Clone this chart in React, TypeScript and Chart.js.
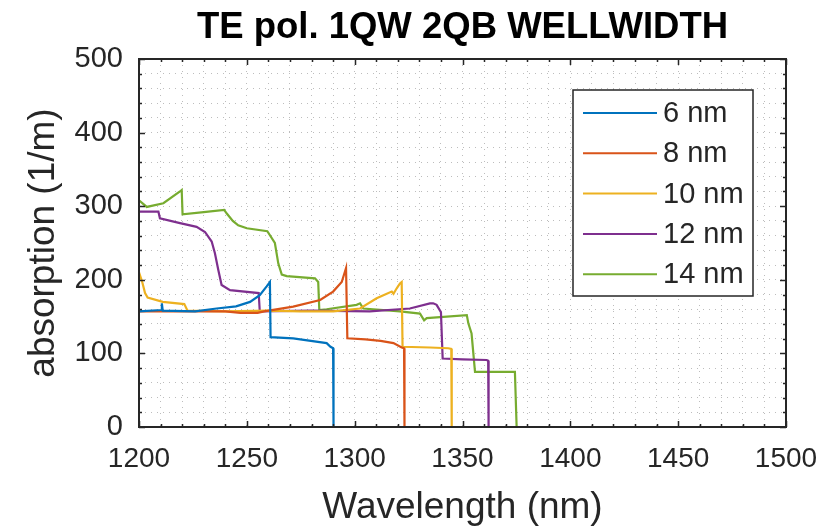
import React, { useEffect, useRef } from "react";
import { Chart, registerables } from "chart.js";

Chart.register(...registerables);

const TITLE = "TE pol. 1QW 2QB WELLWIDTH";
const X_LABEL = "Wavelength (nm)";
const Y_LABEL = "absorption (1/m)";
const SERIES_LABELS = ["6 nm", "8 nm", "10 nm", "12 nm", "14 nm"];
const SERIES_COLORS = ["#0072BD", "#D95319", "#EDB120", "#7E2F8E", "#77AC30"];

const WL_6 = [1200, 1210.3, 1210.6, 1211, 1226, 1236, 1245, 1251.5, 1256, 1259.2, 1260.7, 1261, 1271.5, 1287, 1288.8, 1290, 1290.2, 1500];
const ABS_6 = [157, 159, 168, 158, 157, 161, 164, 170, 179, 191, 197, 122, 120.5, 114, 109, 107, 0, 0];

const WL_8 = [1200, 1240, 1247, 1255, 1258, 1271.5, 1284, 1290, 1294, 1296, 1296.6, 1305, 1312, 1318, 1321.8, 1322.9, 1323.1, 1500];
const ABS_8 = [157, 157, 155, 155, 157, 163.5, 172.5, 184, 197, 216, 120.5, 119, 117, 114, 108, 107, 0, 0];

const WL_10 = [1200, 1201.5, 1202.8, 1204, 1211, 1221, 1222.5, 1240, 1260, 1274.6, 1290, 1302.5, 1310.2, 1317.2, 1318, 1319.5, 1321, 1321.8, 1322.2, 1335, 1343.4, 1344.8, 1345, 1500];
const ABS_10 = [210, 197, 182, 176, 170, 167, 158, 157, 158, 157, 157, 161, 175, 184, 181, 188.5, 195, 197, 109, 108, 107, 106, 0, 0];

const WL_12 = [1200, 1209, 1209.7, 1219, 1226.7, 1230.6, 1233.7, 1235.2, 1236.8, 1238.3, 1242.2, 1255.5, 1256, 1280, 1307, 1325.6, 1334.9, 1336.4, 1338, 1340, 1340.8, 1350, 1361.2, 1361.9, 1362.1, 1500];
const ABS_12 = [292.5, 292.5, 283.5, 277, 272, 265, 252, 236, 213, 193, 186, 182, 157, 158, 157, 161, 168, 168, 166, 156, 93, 92, 91, 90, 0, 0];

const WL_14 = [1200, 1203.6, 1211.3, 1219, 1219.8, 1220.2, 1230, 1239.5, 1240.7, 1243.5, 1246, 1250, 1259.5, 1263, 1264.6, 1266.2, 1268.5, 1281.6, 1283.1, 1283.6, 1287, 1300.9, 1302.5, 1304, 1321, 1330.3, 1332.2, 1333.4, 1352, 1352.7, 1354.2, 1355.8, 1374.3, 1375.1, 1500];
const ABS_14 = [308, 299, 304, 320, 322, 289, 292, 295, 290, 280, 274, 270, 266, 250, 222, 207, 205, 202, 197, 159, 160, 166, 168, 161, 157, 154, 145, 148, 152, 141, 127, 75, 75, 0, 0];

const SERIES_WL = [WL_6, WL_8, WL_10, WL_12, WL_14];
const SERIES_ABS = [ABS_6, ABS_8, ABS_10, ABS_12, ABS_14];

const X_MIN = 1200, X_MAX = 1500, X_MAJOR = 50, X_MINOR = 10;
const Y_MIN = 0, Y_MAX = 500, Y_MAJOR = 100, Y_MINOR = 20;

const FONT = "'Liberation Sans', Arial, Helvetica, sans-serif";
const TEXT = "#262626";

const framePlugin = {
  id: "frameTicks",
  afterDatasetsDraw(chart: any) {
    const { ctx, chartArea } = chart;
    const { left, right, top, bottom } = chartArea;
    const xs = chart.scales.x, ys = chart.scales.y;
    ctx.save();
    ctx.strokeStyle = TEXT;
    ctx.lineWidth = 1.5;
    ctx.setLineDash([]);
    ctx.beginPath();
    for (let v = X_MIN; v <= X_MAX + 1e-6; v += X_MINOR) {
      const px = Math.round(xs.getPixelForValue(v)) + 0.5;
      const len = v % X_MAJOR === 0 ? 6 : 3;
      ctx.moveTo(px, bottom); ctx.lineTo(px, bottom - len);
      ctx.moveTo(px, top); ctx.lineTo(px, top + len);
    }
    for (let v = Y_MIN; v <= Y_MAX + 1e-6; v += Y_MINOR) {
      const py = Math.round(ys.getPixelForValue(v)) + 0.5;
      const len = v % Y_MAJOR === 0 ? 6 : 3;
      ctx.moveTo(left, py); ctx.lineTo(left + len, py);
      ctx.moveTo(right, py); ctx.lineTo(right - len, py);
    }
    ctx.stroke();
    ctx.lineWidth = 2;
    ctx.strokeRect(left, top, right - left, bottom - top);
    ctx.restore();
  },
  afterDraw(chart: any) {
    const { ctx, chartArea } = chart;
    const boxW = 180, boxH = 206;
    const bx = chartArea.right - 33 - boxW;
    const by = chartArea.top + 31;
    ctx.save();
    ctx.fillStyle = "#ffffff";
    ctx.fillRect(bx, by, boxW, boxH);
    ctx.strokeStyle = TEXT;
    ctx.lineWidth = 1.5;
    ctx.strokeRect(bx, by, boxW, boxH);
    ctx.font = `29px ${FONT}`;
    ctx.textBaseline = "middle";
    ctx.textAlign = "left";
    chart.data.datasets.forEach((ds: any, i: number) => {
      const cy = by + 23 + i * 40.3;
      ctx.strokeStyle = ds.borderColor;
      ctx.lineWidth = 2;
      ctx.beginPath();
      ctx.moveTo(bx + 10, cy);
      ctx.lineTo(bx + 84, cy);
      ctx.stroke();
      ctx.fillStyle = TEXT;
      ctx.fillText(ds.label, bx + 90, cy + 1);
    });
    ctx.restore();
  },
};

export default function App() {
  const ref = useRef<HTMLCanvasElement | null>(null);
  useEffect(() => {
    document.body.style.margin = "0";
    const datasets = SERIES_LABELS.map((label, i) => ({
      label,
      data: SERIES_WL[i].map((w, j) => ({ x: w, y: SERIES_ABS[i][j] })),
      borderColor: SERIES_COLORS[i],
      backgroundColor: SERIES_COLORS[i],
      borderWidth: 2.2,
      pointRadius: 0,
      showLine: true,
      tension: 0,
    }));
    const chart = new Chart(ref.current!, {
      type: "scatter",
      data: { datasets },
      plugins: [framePlugin],
      options: {
        animation: false,
        responsive: true,
        maintainAspectRatio: false,
        layout: { padding: { left: 0, right: 39, top: 0, bottom: 0 } },
        plugins: {
          legend: { display: false },
          tooltip: { enabled: false },
          title: {
            display: true,
            fullSize: false,
            text: TITLE,
            color: "#000",
            font: { family: FONT, size: 36.5, weight: "bold" },
            padding: { top: 6, bottom: 9.2 },
          },
        },
        scales: {
          x: {
            type: "linear",
            min: X_MIN,
            max: X_MAX,
            afterFit(scale: any) {
              scale.height = 105;
              scale.paddingLeft = 0;
              scale.paddingRight = 0;
            },
            ticks: {
              stepSize: X_MINOR,
              autoSkip: false,
              maxRotation: 0,
              padding: 15,
              color: TEXT,
              font: { family: FONT, size: 28 },
              callback: (v: any) => (Number(v) % X_MAJOR === 0 ? String(v) : ""),
            },
            grid: { color: "rgba(0,0,0,0.26)", drawTicks: false, lineWidth: 1 },
            border: { display: false, dash: [1, 5] },
            title: {
              display: true,
              text: X_LABEL,
              color: TEXT,
              font: { family: FONT, size: 37 },
              padding: { top: 0, bottom: 2 },
            },
          },
          y: {
            type: "linear",
            min: Y_MIN,
            max: Y_MAX,
            afterFit(scale: any) {
              scale.width = 139;
              scale.paddingTop = 0;
              scale.paddingBottom = 0;
            },
            ticks: {
              stepSize: Y_MINOR,
              autoSkip: false,
              padding: 16,
              color: TEXT,
              font: { family: FONT, size: 29 },
              callback: (v: any) => (Number(v) % Y_MAJOR === 0 ? String(v) : ""),
            },
            grid: { color: "rgba(0,0,0,0.26)", drawTicks: false, lineWidth: 1 },
            border: { display: false, dash: [1, 5] },
            title: {
              display: true,
              text: Y_LABEL,
              color: TEXT,
              font: { family: FONT, size: 37 },
              padding: { top: 22, bottom: 0 },
            },
          },
        },
      } as any,
    });
    return () => chart.destroy();
  }, []);
  return (
    <div style={{ position: "relative", width: 825, height: 532 }}>
      <canvas ref={ref} />
    </div>
  );
}
